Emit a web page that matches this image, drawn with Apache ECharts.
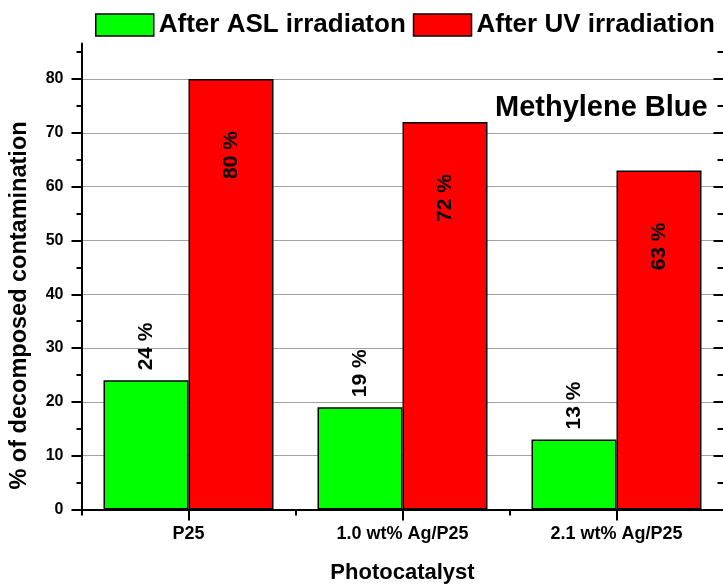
<!DOCTYPE html>
<html>
<head>
<meta charset="utf-8">
<script src="https://cdn.jsdelivr.net/npm/echarts@6/dist/echarts.min.js"></script>
<style>
  html, body { margin: 0; padding: 0; background: #fff; }
  #chart { width: 723px; height: 584px; }
</style>
</head>
<body>
<div id="chart"></div>
<script>
// Photocatalytic decomposition of methylene blue
const categories = ['P25', '1.0 wt% Ag/P25', '2.1 wt% Ag/P25'];
const aslValues = [24, 19, 13];
const uvValues = [80, 72, 63];
const seriesNames = ['After ASL irradiaton', 'After UV irradiation'];
const yMajorTicks = [0, 10, 20, 30, 40, 50, 60, 70, 80];
const yMinorTicks = [5, 15, 25, 35, 45, 55, 65, 75, 85];

const FONT = "'Liberation Sans', Arial, sans-serif";
const INK = '#000';
const Y_MIN = 0, Y_MAX = 86.6;

const chart = echarts.init(document.getElementById('chart'), null, { renderer: 'canvas' });

const frameLine = { show: true, lineStyle: { color: INK, width: 2 } };
const hiddenLine = { show: false };

function catAxis(position, centerTicks, len, inside, withLabels) {
  return {
    type: 'category',
    data: categories,
    position: position,
    boundaryGap: true,
    axisLine: centerTicks ? frameLine : hiddenLine,
    axisTick: {
      show: true, alignWithLabel: centerTicks, inside: inside, length: len,
      lineStyle: { color: INK, width: 2 }
    },
    axisLabel: withLabels ? {
      show: true, color: INK, fontFamily: FONT, fontWeight: 'bold', fontSize: 18, margin: 16
    } : { show: false },
    splitLine: { show: false },
    name: withLabels ? 'Photocatalyst' : '',
    nameLocation: 'middle',
    nameGap: 52,
    nameTextStyle: { color: INK, fontFamily: FONT, fontWeight: 'bold', fontSize: 22 }
  };
}

function valAxis(position, ticks, len, inside, opts) {
  return Object.assign({
    type: 'value',
    min: Y_MIN, max: Y_MAX, interval: 5,
    position: position,
    axisLine: hiddenLine,
    axisTick: {
      show: true, inside: inside, length: len, customValues: ticks,
      lineStyle: { color: INK, width: 2 }
    },
    axisLabel: { show: false },
    splitLine: { show: false }
  }, opts || {});
}

const option = {
  backgroundColor: '#fff',
  animation: false,
  grid: {
    left: 81.5, top: 43.5, width: 642, bottom: 74.5,
    containLabel: false, outerBoundsMode: 'none'
  },
  title: {
    text: 'Methylene Blue',
    left: 490, top: 88,
    textStyle: { color: INK, fontFamily: FONT, fontWeight: 'bold', fontSize: 29 }
  },
  legend: {
    data: seriesNames,
    left: 95, top: 12, width: 628, padding: 0,
    itemWidth: 58, itemHeight: 22, itemGap: 7,
    icon: 'rect',
    textStyle: { color: INK, fontFamily: FONT, fontWeight: 'bold', fontSize: 26 },
    itemStyle: { borderColor: INK, borderWidth: 1.5 }
  },
  xAxis: [
    catAxis('bottom', true, 10, false, true),
    catAxis('bottom', false, 6, false, false),
    catAxis('top', true, 11, true, false),
    catAxis('top', false, 6, true, false)
  ],
  yAxis: [
    valAxis('left', yMajorTicks, 10, false, {
      axisLine: frameLine,
      axisLabel: {
        show: true, customValues: yMajorTicks, margin: 18,
        color: INK, fontFamily: FONT, fontWeight: 'bold', fontSize: 16
      },
      splitLine: {
        show: true,
        lineStyle: { color: '#444', width: 1, type: [1, 1] }
      },
      name: '% of decomposed contamination',
      nameLocation: 'middle',
      nameRotate: 90,
      nameGap: 50,
      nameTextStyle: {
        color: INK, fontFamily: FONT, fontWeight: 'bold', fontSize: 23.5,
        padding: [0, 58, 0, 0]
      }
    }),
    valAxis('left', yMinorTicks, 5, false),
    valAxis('right', yMajorTicks, 10, true, { axisLine: frameLine }),
    valAxis('right', yMinorTicks, 6, true)
  ],
  series: [
    {
      name: seriesNames[0],
      type: 'bar',
      data: aslValues,
      barWidth: 85,
      barGap: '0%',
      itemStyle: { color: '#00ff00', borderColor: INK, borderWidth: 1.5 },
      label: {
        show: true, position: 'top', rotate: 90, distance: 10,
        align: 'left', verticalAlign: 'middle',
        formatter: '{c} %',
        color: INK, fontFamily: FONT, fontWeight: 'bold', fontSize: 21
      }
    },
    {
      name: seriesNames[1],
      type: 'bar',
      data: uvValues,
      barWidth: 85,
      barGap: '0%',
      itemStyle: { color: '#ff0000', borderColor: INK, borderWidth: 1.5 },
      label: {
        show: true, position: 'insideTop', rotate: 90, distance: 52,
        align: 'right', verticalAlign: 'middle',
        formatter: '{c} %',
        color: INK, fontFamily: FONT, fontWeight: 'bold', fontSize: 21
      }
    }
  ]
};

chart.setOption(option);
</script>
</body>
</html>
